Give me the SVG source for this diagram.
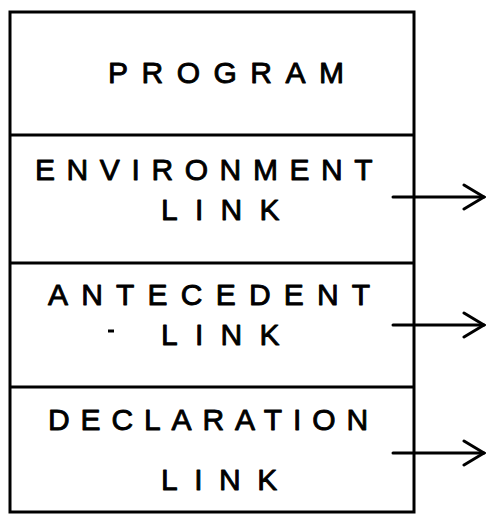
<svg xmlns="http://www.w3.org/2000/svg" width="487" height="515" viewBox="0 0 487 515">
  <style>
    .frame { fill: #fff; stroke: #000; stroke-width: 3; }
    .rule { stroke: #000; stroke-width: 3; fill: none; }
    .label { font-family: "Liberation Sans", Arial, sans-serif; font-size: 30px; fill: #000; stroke: #000; stroke-width: 0.9; stroke-linejoin: round; }
    .link { stroke: #000; stroke-width: 3; fill: none; stroke-linecap: round; }
  </style>
  <defs>
    <marker id="open-arrow" viewBox="0 0 24 28" refX="22" refY="14" markerWidth="24" markerHeight="28" markerUnits="userSpaceOnUse" orient="auto">
      <path d="M2,2 L22,14 L2,26" fill="none" stroke="#000" stroke-width="3" stroke-linecap="round" stroke-linejoin="miter"/>
    </marker>
  </defs>
  <rect width="487" height="515" fill="#fff"/>

  <!-- outer frame of the record -->
  <rect class="frame" x="10" y="12" width="404" height="500"/>

  <g id="program">
    <text class="label" x="108" y="83" font-size="29" letter-spacing="13.5">PROGRAM</text>
  </g>

  <g id="environment-link">
    <line class="rule" x1="10" y1="135" x2="414" y2="135"/>
    <text class="label" x="35" y="180" letter-spacing="11.6">ENVIRONMENT</text>
    <text class="label" x="161" y="220" letter-spacing="17.3">LINK</text>
  </g>

  <g id="antecedent-link">
    <line class="rule" x1="10" y1="263" x2="414" y2="263"/>
    <text class="label" x="48" y="305" letter-spacing="13.2">ANTECEDENT</text>
    <line class="rule" x1="108" y1="331" x2="114" y2="331"/>
    <text class="label" x="161" y="345" letter-spacing="17.3">LINK</text>
  </g>

  <g id="declaration-link">
    <line class="rule" x1="10" y1="387" x2="414" y2="387"/>
    <text class="label" x="48" y="430" letter-spacing="10.9">DECLARATION</text>
    <text class="label" x="161" y="490" letter-spacing="16.5">LINK</text>
  </g>

  <g id="connectors">
    <line class="link" x1="393" y1="197" x2="484" y2="197" marker-end="url(#open-arrow)"/>
    <line class="link" x1="393" y1="325" x2="484" y2="325" marker-end="url(#open-arrow)"/>
    <line class="link" x1="393" y1="453" x2="484" y2="453" marker-end="url(#open-arrow)"/>
  </g>
</svg>
